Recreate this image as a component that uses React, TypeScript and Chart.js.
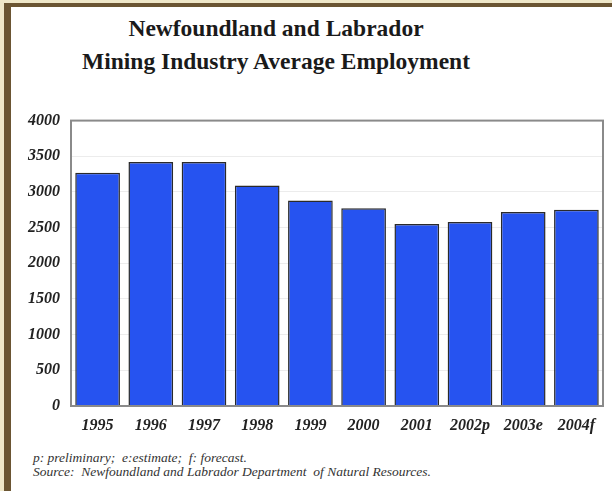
import React, { useEffect, useRef } from "react";
import { Chart, registerables } from "chart.js";

Chart.register(...registerables);

const categories = ["1995", "1996", "1997", "1998", "1999", "2000", "2001", "2002p", "2003e", "2004f"];
const employment = [3270, 3420, 3420, 3090, 2880, 2770, 2550, 2580, 2720, 2750];
const yTicks = [0, 500, 1000, 1500, 2000, 2500, 3000, 3500, 4000];
const titleLines = ["Newfoundland and Labrador", "Mining Industry Average Employment"];
const noteLines = [
  "p: preliminary;  e:estimate;  f: forecast.",
  "Source:  Newfoundland and Labrador Department  of Natural Resources.",
];

const framePlugin = {
  id: "frame",
  afterDatasetsDraw(chart: any) {
    const { ctx, chartArea } = chart;
    ctx.save();
    ctx.strokeStyle = "#8a8a8a";
    ctx.lineWidth = 2;
    ctx.strokeRect(chartArea.left, chartArea.top, chartArea.right - chartArea.left, chartArea.bottom - chartArea.top);
    ctx.restore();
  },
};

const tickFont = { family: "Liberation Serif", size: 16, weight: "bold" as const, style: "italic" as const };

export default function App() {
  const ref = useRef<HTMLCanvasElement | null>(null);
  useEffect(() => {
    if (!ref.current) return;
    const chart = new Chart(ref.current, {
      type: "bar",
      data: {
        labels: categories,
        datasets: [
          {
            data: employment,
            backgroundColor: "#2653F0",
            borderColor: "#2a2a2a",
            borderWidth: 1.5,
            barPercentage: 0.84,
            categoryPercentage: 1,
          },
        ],
      },
      options: {
        animation: false,
        responsive: false,
        maintainAspectRatio: false,
        layout: { padding: { top: 12, right: 9, left: 0, bottom: 0 } },
        plugins: { legend: { display: false }, tooltip: { enabled: false }, title: { display: false } },
        scales: {
          x: {
            grid: { display: false, drawTicks: false },
            border: { display: false },
            ticks: { padding: 10, color: "#222", font: tickFont },
            afterFit(scale: any) {
              scale.height = 34;
            },
          },
          y: {
            min: 0,
            max: 4000,
            afterBuildTicks(scale: any) {
              scale.ticks = yTicks.map((v) => ({ value: v }));
            },
            grid: { color: "#ececec", drawTicks: false, lineWidth: 1 },
            border: { display: false },
            ticks: {
              padding: 11,
              color: "#222",
              font: tickFont,
              callback: (v: any) => String(v),
            },
            afterFit(scale: any) {
              scale.width = 59;
            },
          },
        },
      },
      plugins: [framePlugin],
    });
    return () => chart.destroy();
  }, []);

  return (
    <div style={{ position: "fixed", left: 0, top: 0, width: 612, height: 491, background: "#ffffff", overflow: "hidden" }}>
      <div style={{ position: "absolute", left: 0, top: 0, width: 612, height: 3, background: "#EFE7C9" }} />
      <div style={{ position: "absolute", left: 0, top: 3, width: 612, height: 4, background: "#6B5533" }} />
      <div style={{ position: "absolute", left: 0, top: 3, width: 4, height: 488, background: "#EFE7C9" }} />
      <div style={{ position: "absolute", left: 4, top: 3, width: 7, height: 488, background: "#6B5533" }} />
      <div
        style={{
          position: "absolute",
          left: 76,
          width: 400,
          top: 12,
          textAlign: "center",
          fontFamily: "Liberation Serif",
          fontWeight: "bold",
          fontSize: 23.5,
          lineHeight: "33px",
          color: "#1a1a1a",
        }}
      >
        {titleLines.map((t) => (
          <div key={t}>{t}</div>
        ))}
      </div>
      <canvas ref={ref} width={600} height={340} style={{ position: "absolute", left: 12, top: 100, width: 600, height: 340 }} />
      <div
        style={{
          position: "absolute",
          left: 33,
          top: 451,
          fontFamily: "Liberation Serif",
          fontStyle: "italic",
          fontSize: 13.5,
          lineHeight: "14px",
          color: "#333",
          whiteSpace: "pre",
        }}
      >
        {noteLines.map((t) => (
          <div key={t}>{t}</div>
        ))}
      </div>
    </div>
  );
}
